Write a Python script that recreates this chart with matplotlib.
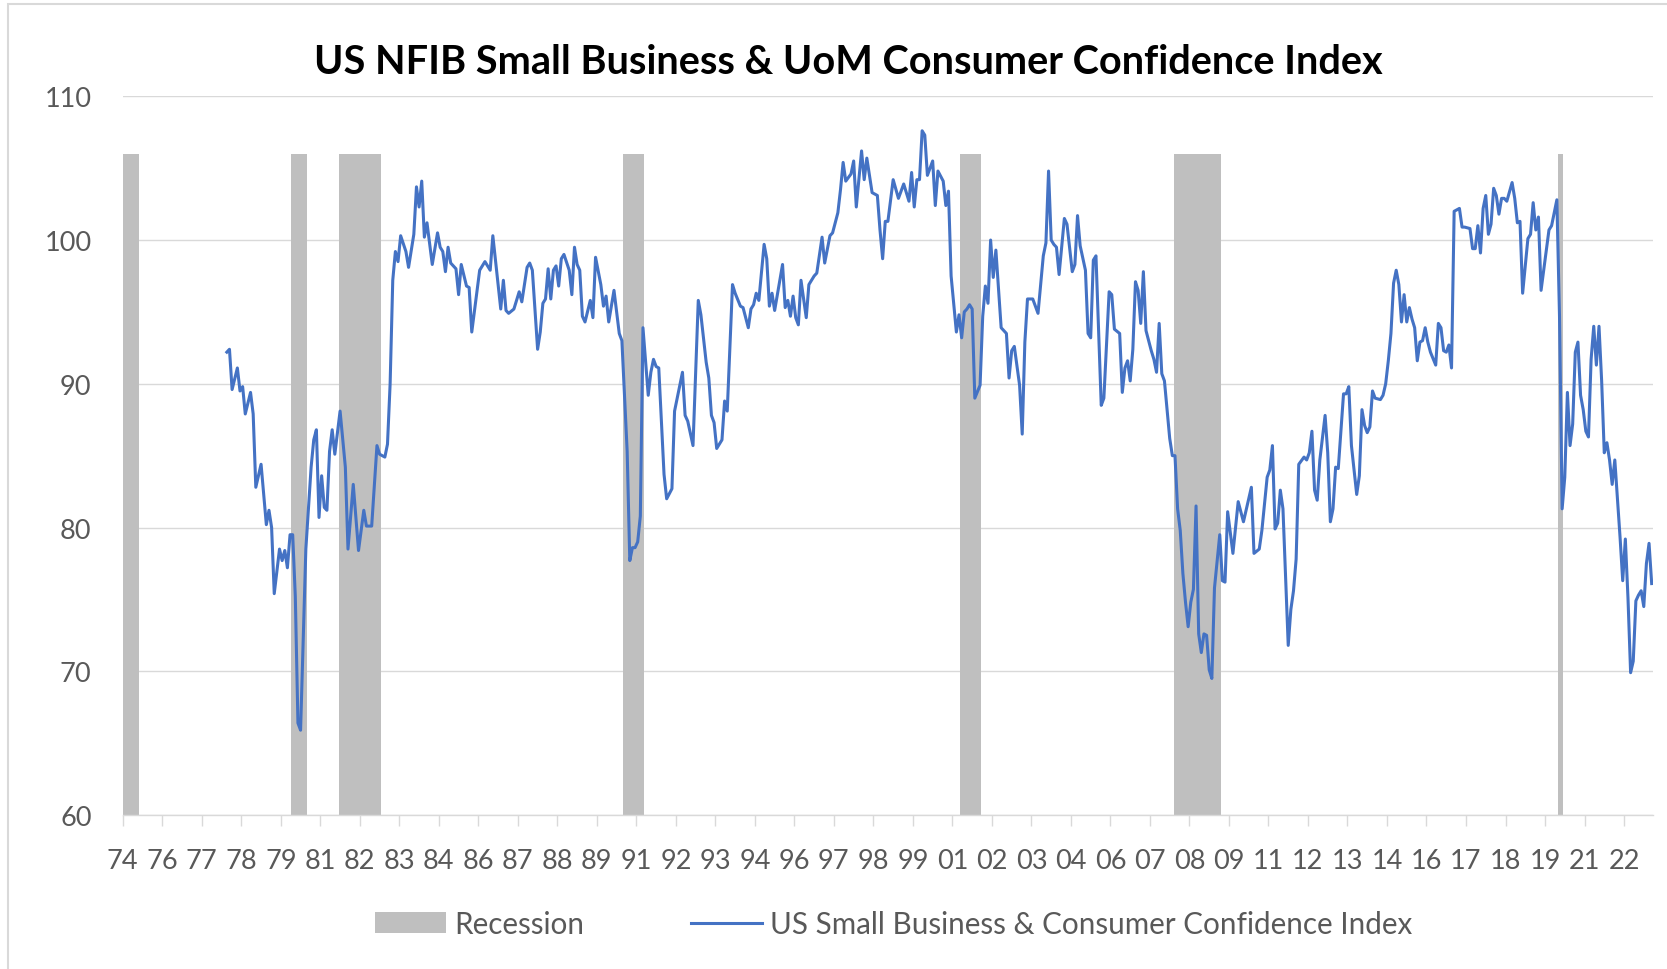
import numpy as np
import pandas as pd
import matplotlib
matplotlib.use("Agg")
import matplotlib.pyplot as plt
from matplotlib.patches import Rectangle

plt.rcParams['font.family'] = ['Lato', 'DejaVu Sans']

TITLE = "US NFIB Small Business & UoM Consumer Confidence Index"
SERIES_LABEL = "US Small Business & Consumer Confidence Index"
RECESSION_LABEL = "Recession"

# monthly category axis of the original chart
axis_months = pd.period_range("1974-10", "2023-02", freq="M")

# NBER recession months (inclusive), drawn as bars up to 106
recession_start = ["1974-10", "1980-02", "1981-08", "1990-08", "2001-04", "2008-01", "2020-03"]
recession_end = ["1975-03", "1980-07", "1982-11", "1991-03", "2001-11", "2009-06", "2020-04"]
recession_top = 106

# index readings (turning points)
obs_month = [
    "1978-01", "1978-02", "1978-03", "1978-05", "1978-06", "1978-07", "1978-08", "1978-10", "1978-11", "1978-12",
    "1979-02", "1979-04", "1979-05", "1979-06", "1979-07", "1979-09", "1979-10", "1979-11", "1979-12",
    "1980-01", "1980-02", "1980-03", "1980-04", "1980-05", "1980-07", "1980-09", "1980-10", "1980-11", "1980-12",
    "1981-01", "1981-02", "1981-03", "1981-04", "1981-05", "1981-06", "1981-08", "1981-10", "1981-11",
    "1982-01", "1982-03", "1982-05", "1982-06", "1982-08", "1982-10", "1982-11",
    "1983-01", "1983-02", "1983-03", "1983-04", "1983-05", "1983-06", "1983-07", "1983-09", "1983-10", "1983-12",
    "1984-01", "1984-02", "1984-03", "1984-04", "1984-05", "1984-07", "1984-09", "1984-10", "1984-11", "1984-12",
    "1985-01", "1985-02", "1985-04", "1985-05", "1985-06", "1985-08", "1985-09", "1985-10",
    "1986-01", "1986-03", "1986-05", "1986-06", "1986-09", "1986-10", "1986-11", "1986-12",
    "1987-02", "1987-04", "1987-05", "1987-07", "1987-08", "1987-09", "1987-11", "1987-12",
    "1988-01", "1988-02", "1988-03", "1988-04", "1988-05", "1988-06", "1988-07", "1988-08", "1988-09", "1988-11", "1988-12",
    "1989-01", "1989-02", "1989-03", "1989-04", "1989-05", "1989-07", "1989-08", "1989-09", "1989-11", "1989-12",
    "1990-01", "1990-02", "1990-04", "1990-06", "1990-07", "1990-09", "1990-10", "1990-11", "1990-12",
    "1991-01", "1991-02", "1991-03", "1991-05", "1991-06", "1991-07", "1991-08", "1991-09", "1991-11", "1991-12",
    "1992-02", "1992-03", "1992-06", "1992-07", "1992-08", "1992-10", "1992-12",
    "1993-01", "1993-03", "1993-04", "1993-05", "1993-06", "1993-07", "1993-08", "1993-09", "1993-10", "1993-11",
    "1994-01", "1994-02", "1994-04", "1994-05", "1994-07", "1994-08", "1994-09", "1994-10", "1994-11",
    "1995-01", "1995-02", "1995-03", "1995-04", "1995-05", "1995-08", "1995-09", "1995-10", "1995-11", "1995-12",
    "1996-01", "1996-02", "1996-03", "1996-05", "1996-06", "1996-08", "1996-09", "1996-11", "1996-12",
    "1997-02", "1997-03", "1997-05", "1997-06", "1997-07", "1997-08", "1997-10", "1997-11", "1997-12",
    "1998-02", "1998-03", "1998-04", "1998-06", "1998-08", "1998-09", "1998-10", "1998-11", "1998-12",
    "1999-02", "1999-04", "1999-06", "1999-08", "1999-09", "1999-10", "1999-11", "1999-12",
    "2000-01", "2000-02", "2000-03", "2000-05", "2000-06", "2000-07", "2000-09", "2000-10", "2000-11", "2000-12",
    "2001-02", "2001-03", "2001-04", "2001-05", "2001-06", "2001-07", "2001-08", "2001-09", "2001-11", "2001-12",
    "2002-01", "2002-02", "2002-03", "2002-04", "2002-05", "2002-07", "2002-09", "2002-10", "2002-11", "2002-12",
    "2003-02", "2003-03", "2003-04", "2003-05", "2003-07", "2003-09", "2003-11", "2003-12",
    "2004-01", "2004-02", "2004-03", "2004-04", "2004-05", "2004-07", "2004-08", "2004-10", "2004-11", "2004-12",
    "2005-01", "2005-03", "2005-04", "2005-05", "2005-06", "2005-07", "2005-09", "2005-10", "2005-12",
    "2006-01", "2006-02", "2006-04", "2006-05", "2006-06", "2006-07", "2006-08", "2006-09", "2006-10", "2006-11", "2006-12",
    "2007-01", "2007-02", "2007-04", "2007-05", "2007-06", "2007-07", "2007-08", "2007-09", "2007-11", "2007-12",
    "2008-01", "2008-02", "2008-03", "2008-04", "2008-05", "2008-06", "2008-07", "2008-08", "2008-09", "2008-10", "2008-11", "2008-12",
    "2009-01", "2009-02", "2009-03", "2009-04", "2009-06", "2009-07", "2009-08", "2009-09", "2009-11",
    "2010-01", "2010-03", "2010-06", "2010-07", "2010-09", "2010-10", "2010-12",
    "2011-01", "2011-02", "2011-03", "2011-04", "2011-05", "2011-06", "2011-08", "2011-09", "2011-10", "2011-11", "2011-12",
    "2012-02", "2012-03", "2012-04", "2012-05", "2012-06", "2012-07", "2012-08", "2012-10", "2012-11", "2012-12",
    "2013-01", "2013-02", "2013-03", "2013-05", "2013-06", "2013-07", "2013-08", "2013-10", "2013-11", "2013-12",
    "2014-01", "2014-02", "2014-03", "2014-04", "2014-05", "2014-07", "2014-08", "2014-09", "2014-10", "2014-11", "2014-12",
    "2015-01", "2015-02", "2015-03", "2015-04", "2015-05", "2015-06", "2015-07", "2015-08", "2015-09", "2015-10", "2015-11", "2015-12",
    "2016-01", "2016-02", "2016-04", "2016-05", "2016-06", "2016-07", "2016-08", "2016-09", "2016-10", "2016-11",
    "2017-01", "2017-02", "2017-03", "2017-05", "2017-06", "2017-07", "2017-08", "2017-09", "2017-10", "2017-11", "2017-12",
    "2018-01", "2018-02", "2018-03", "2018-04", "2018-05", "2018-06", "2018-07", "2018-09", "2018-10", "2018-11", "2018-12",
    "2019-01", "2019-03", "2019-04", "2019-05", "2019-06", "2019-07", "2019-08", "2019-09", "2019-11", "2019-12",
    "2020-01", "2020-02", "2020-03", "2020-04", "2020-05", "2020-06", "2020-07", "2020-08", "2020-09", "2020-10", "2020-11", "2020-12",
    "2021-01", "2021-02", "2021-03", "2021-04", "2021-05", "2021-06", "2021-07", "2021-08", "2021-09", "2021-10", "2021-11", "2021-12",
    "2022-01", "2022-02", "2022-03", "2022-04", "2022-05", "2022-06", "2022-07", "2022-08", "2022-09", "2022-10", "2022-11", "2022-12",
    "2023-01", "2023-02",
]
index_value = [
    92.2, 92.4, 89.6, 91.1, 89.5, 89.8, 87.9, 89.4, 87.9, 82.8,
    84.4, 80.2, 81.2, 80.0, 75.4, 78.5, 77.7, 78.4, 77.2,
    79.5, 79.5, 75.2, 66.4, 65.9, 78.5, 84.2, 86.1, 86.8, 80.7,
    83.6, 81.4, 81.2, 85.3, 86.8, 85.1, 88.1, 84.2, 78.5,
    83.0, 78.4, 81.2, 80.1, 80.1, 85.7, 85.1,
    84.9, 85.8, 90.0, 97.2, 99.2, 98.5, 100.3, 99.2, 98.1, 100.4,
    103.7, 102.3, 104.1, 100.2, 101.2, 98.3, 100.5, 99.5, 99.2, 97.8,
    99.5, 98.4, 98.0, 96.2, 98.3, 96.8, 96.7, 93.6,
    97.9, 98.5, 97.9, 100.3, 95.2, 97.2, 95.1, 94.9,
    95.2, 96.4, 95.7, 98.1, 98.4, 97.9, 92.4, 93.6,
    95.6, 95.9, 98.0, 95.9, 97.9, 98.2, 96.8, 98.7, 99.0, 97.9, 96.2,
    99.5, 98.3, 97.9, 94.7, 94.3, 95.8, 94.6, 98.8, 96.9, 95.4,
    96.1, 94.3, 96.5, 93.5, 93.0, 85.3, 77.7, 78.6, 78.6,
    79.0, 80.8, 93.9, 89.2, 90.8, 91.7, 91.2, 91.1, 83.7, 82.0,
    82.7, 88.1, 90.8, 87.8, 87.4, 85.7, 95.8,
    94.8, 91.5, 90.4, 87.8, 87.3, 85.5, 85.8, 86.1, 88.8, 88.1,
    96.9, 96.3, 95.4, 95.3, 93.9, 95.2, 95.5, 96.3, 95.8,
    99.7, 98.7, 95.4, 96.3, 95.1, 98.3, 95.3, 95.8, 94.7, 96.1,
    94.6, 94.1, 97.2, 94.6, 96.9, 97.5, 97.7, 100.2, 98.4,
    100.3, 100.5, 101.9, 103.5, 105.4, 104.1, 104.6, 105.5, 102.3,
    106.2, 104.2, 105.7, 103.3, 103.1, 100.7, 98.7, 101.3, 101.3,
    104.2, 102.9, 103.9, 102.7, 104.7, 102.3, 104.2, 104.2,
    107.6, 107.3, 104.5, 105.5, 102.4, 104.8, 104.1, 102.4, 103.4, 97.5,
    93.6, 94.8, 93.2, 95.0, 95.2, 95.5, 95.2, 89.0, 89.9, 94.7,
    96.8, 95.6, 100.0, 97.4, 99.3, 93.9, 93.5, 90.4, 92.3, 92.6,
    89.9, 86.5, 92.9, 95.9, 95.9, 94.9, 98.9, 99.8,
    104.8, 100.0, 99.7, 99.5, 97.6, 101.5, 101.1, 97.8, 98.3, 101.7,
    99.6, 97.9, 93.5, 93.2, 98.6, 98.9, 88.5, 89.0, 96.4,
    96.2, 93.8, 93.5, 89.4, 91.1, 91.6, 90.2, 92.4, 97.1, 96.5, 94.2,
    97.8, 93.7, 92.3, 91.7, 90.8, 94.2, 90.7, 90.2, 86.2, 85.0,
    85.0, 81.3, 79.8, 76.8, 74.8, 73.1, 74.8, 75.7, 81.5, 72.6, 71.3, 72.6,
    72.5, 70.1, 69.5, 75.8, 79.5, 76.3, 76.2, 81.1, 78.2,
    81.8, 80.4, 82.8, 78.2, 78.5, 79.8, 83.5,
    84.0, 85.7, 79.9, 80.3, 82.6, 81.3, 71.8, 74.3, 75.6, 77.8, 84.4,
    84.9, 84.7, 85.2, 86.7, 82.6, 81.9, 84.7, 87.8, 85.2, 80.4,
    81.3, 84.2, 84.1, 89.3, 89.3, 89.8, 85.7, 82.3, 83.6, 88.2,
    87.1, 86.6, 87.0, 89.5, 89.0, 88.9, 89.2, 90.0, 91.6, 93.5, 97.0,
    97.9, 96.9, 94.3, 96.2, 94.3, 95.3, 94.5, 93.9, 91.6, 92.9, 93.0, 93.9,
    92.9, 92.2, 91.3, 94.2, 93.9, 92.3, 92.2, 92.7, 91.1, 102.0,
    102.2, 100.9, 100.9, 100.8, 99.4, 99.4, 101.0, 99.1, 102.2, 103.1, 100.4,
    101.1, 103.6, 103.1, 101.8, 102.9, 102.9, 102.7, 104.0, 102.9, 101.2, 101.3,
    96.3, 100.1, 100.4, 102.6, 100.7, 101.6, 96.5, 97.9, 100.7, 101.0,
    101.9, 102.8, 94.7, 81.3, 83.5, 89.4, 85.7, 87.2, 92.2, 92.9, 89.2, 88.2,
    86.7, 86.3, 91.7, 94.0, 91.3, 94.0, 90.2, 85.2, 85.9, 84.7, 83.0, 84.7,
    82.0, 79.3, 76.3, 79.2, 75.1, 69.9, 70.7, 74.9, 75.3, 75.6, 74.5, 77.5,
    78.9, 76.1,
]

GRID = '#d9d9d9'
TEXT = '#595959'
BAR = '#bfbfbf'
LINE = '#4472c4'

W, H = 1667, 970


def month_pos(labels):
    # position of a month on the category axis
    start = axis_months[0]
    return np.array([(pd.Period(m, freq="M") - start).n for m in labels])


fig = plt.figure(figsize=(W / 100, H / 100), dpi=100, facecolor='white')
ax = fig.add_axes([122.8 / W, 1 - 816 / H, (1653 - 122.8) / W, (816 - 97.3) / H])

# recession columns
rs = month_pos(recession_start)
re_ = month_pos(recession_end)
bars = ax.bar(rs - 0.5, recession_top - 60, width=re_ - rs + 1, bottom=60, align='edge',
              color=BAR, linewidth=0, zorder=1, label=RECESSION_LABEL)

# index line
line, = ax.plot(month_pos(obs_month), index_value, color=LINE, lw=2.2,
                solid_joinstyle='round', zorder=3, label=SERIES_LABEL)

ax.set_xlim(-0.5, len(axis_months) - 0.5)
ax.set_ylim(60, 110)
ax.set_yticks(np.arange(60, 111, 10))

tick_pos = np.arange(0, len(axis_months), 15) - 0.5
ax.set_xticks(tick_pos)
ax.set_xticklabels(axis_months[::15].strftime('%y'))

ax.set_axisbelow(True)
ax.yaxis.grid(True, color=GRID, lw=1.0)
for side in ['left', 'right', 'top']:
    ax.spines[side].set_visible(False)
ax.spines['bottom'].set_color(GRID)
ax.spines['bottom'].set_linewidth(1.0)

ax.tick_params(axis='x', length=8, width=1.0, color=GRID, labelcolor=TEXT, labelsize=19.5, pad=16)
ax.tick_params(axis='y', length=0, labelcolor=TEXT, labelsize=19.5, pad=22.5)

fig.text(848 / W, 1 - 74 / H, TITLE, ha='center', va='baseline',
         fontsize=28.5, fontweight='bold', color='black')

leg = fig.legend(handles=[bars, line], loc='center left', bbox_to_anchor=(375 / W, 1 - 925 / H),
                 ncol=2, frameon=False, borderpad=0, borderaxespad=0, handlelength=2.4,
                 handleheight=0.68, handletextpad=0.28, columnspacing=3.6, fontsize=21.3)
for t in leg.get_texts():
    t.set_color(TEXT)

# chart area border
fig.patches.append(Rectangle((8 / W, -0.1), 1.2, 1.1 - 5 / H, transform=fig.transFigure,
                             fill=False, edgecolor=GRID, lw=1.5))

fig.savefig('out.png', dpi=100, facecolor='white')
